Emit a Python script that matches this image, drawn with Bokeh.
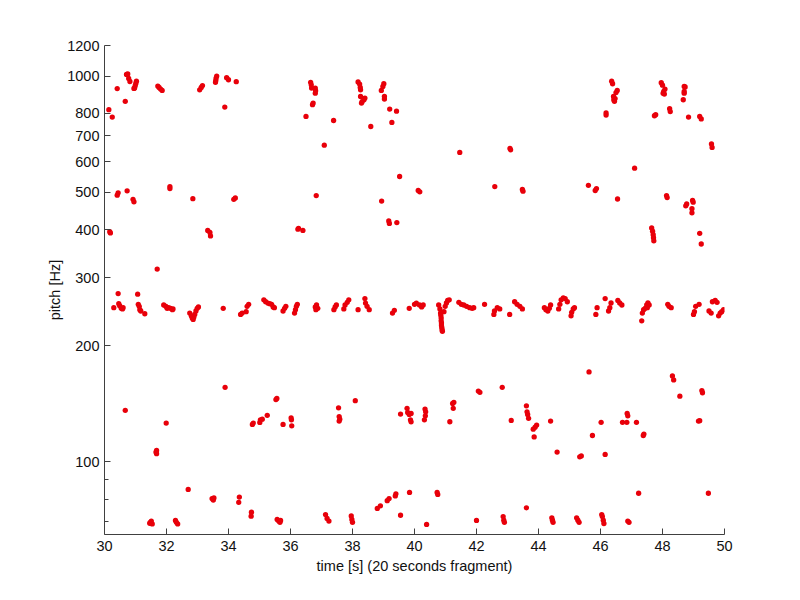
from bokeh.plotting import figure
from bokeh.models import Range1d, FixedTicker, PrintfTickFormatter, ColumnDataSource
from bokeh.embed import file_html
from bokeh.resources import INLINE

# (time [s], pitch [Hz]) pairs, grouped by pitch band
high_band = [
    (30.14, 818), (30.25, 783), (30.41, 928), (30.67, 860), (30.71, 1010), (30.75, 1013), (30.78, 986), (30.82, 968),
    (31.03, 970), (31.01, 957), (30.99, 944), (30.97, 931), (30.95, 929),
    (31.72, 942), (31.76, 934), (31.81, 925), (31.86, 918),
    (33.16, 945), (33.12, 934), (33.07, 921),
    (33.62, 1000), (33.60, 988), (33.59, 974), (33.58, 963),
    (33.94, 990), (34.00, 978), (34.25, 967), (33.88, 831),
    (36.65, 963), (36.67, 949), (36.68, 931), (36.80, 931), (36.81, 916), (36.80, 903), (36.73, 851), (36.71, 843),
    (36.50, 786), (37.39, 767), (37.09, 662),
    (38.18, 965), (38.23, 953), (38.25, 934), (38.26, 921), (38.26, 885), (38.40, 877), (38.37, 868), (38.31, 858), (38.29, 851),
    (38.59, 740),
    (39.01, 955), (38.98, 940), (38.93, 918), (39.03, 885), (39.03, 872),
    (39.20, 821), (39.42, 811), (39.27, 758),
    (41.46, 634), (43.08, 649), (43.10, 644),
    (46.36, 970), (46.39, 955), (46.54, 918), (46.50, 906), (46.42, 885), (46.47, 874), (46.43, 868), (46.45, 860),
    (46.18, 802), (46.18, 792),
    (47.96, 961), (48.00, 947), (48.08, 925), (48.04, 912), (48.02, 903), (48.06, 898),
    (48.23, 823), (48.25, 809), (47.74, 789), (47.78, 794),
    (48.70, 940), (48.73, 937), (48.70, 912), (48.70, 903), (48.67, 868), (48.84, 783),
    (49.20, 786), (49.25, 774), (49.58, 667), (49.60, 653), (47.10, 577),
]

mid_band = [
    (30.44, 498), (30.41, 491), (30.73, 504), (30.92, 479), (30.95, 472),
    (32.11, 517), (32.11, 511), (32.85, 481), (34.22, 483), (34.17, 479),
    (30.17, 395), (30.19, 392), (33.33, 398), (33.40, 393), (33.42, 385),
    (36.26, 403), (36.24, 401), (36.40, 398), (31.70, 316),
    (36.83, 490), (38.94, 474), (39.52, 549), (40.12, 505), (40.17, 501),
    (42.59, 517), (43.48, 508), (43.50, 503), (39.17, 421), (39.19, 415), (39.43, 417),
    (45.61, 521), (45.87, 511), (45.83, 505), (46.55, 480), (48.13, 490), (48.15, 484),
    (48.75, 461), (48.78, 466), (48.97, 476), (48.99, 471), (48.95, 453), (48.95, 442),
    (47.65, 404), (47.68, 396), (47.70, 388), (47.71, 381), (47.72, 374),
    (49.20, 391), (49.25, 367),
]

main_band = [
    (30.30, 251), (30.44, 273), (30.46, 257), (30.49, 254), (30.54, 250), (30.58, 249), (30.60, 251),
    (31.07, 272), (31.09, 256), (31.12, 253), (31.14, 248), (31.17, 246), (31.30, 242),
    (31.91, 255), (31.98, 253), (32.02, 250), (32.07, 251), (32.13, 250), (32.19, 248), (32.21, 249),
    (32.75, 243), (32.80, 239), (32.83, 236), (32.86, 234), (32.88, 237), (32.91, 241), (32.95, 246), (32.99, 250), (33.03, 252),
    (33.83, 250),
    (34.39, 241), (34.44, 243), (34.57, 245), (34.60, 253), (34.65, 256),
    (35.14, 263), (35.20, 260), (35.27, 258), (35.33, 257), (35.39, 256), (35.44, 252), (35.48, 251),
    (35.76, 246), (35.81, 250), (35.85, 253),
    (36.13, 243), (36.16, 248), (36.19, 253), (36.22, 256),
    (36.80, 252), (36.84, 255), (36.88, 250), (36.82, 248),
    (37.40, 248), (37.44, 252), (37.48, 255),
    (37.72, 249), (37.76, 255), (37.83, 259), (37.88, 263),
    (38.18, 248),
    (38.40, 265), (38.42, 258), (38.47, 253), (38.54, 248),
    (39.29, 243), (39.35, 247),
    (39.83, 250), (40.00, 256), (40.06, 258), (40.16, 255), (40.23, 252), (40.28, 255),
    (40.78, 255), (40.82, 249), (40.84, 243), (40.85, 240), (40.86, 236), (40.86, 232), (40.87, 229), (40.87, 226),
    (40.88, 223), (40.89, 220), (40.90, 218), (40.95, 245), (40.99, 253), (41.03, 258), (41.07, 262), (41.12, 263),
    (41.43, 259), (41.51, 256), (41.59, 255), (41.68, 253), (41.78, 251), (41.86, 250), (41.91, 251),
    (42.26, 256),
    (42.56, 241), (42.58, 246), (42.67, 251), (42.75, 249),
    (43.07, 241),
    (43.23, 260), (43.31, 256), (43.40, 253), (43.48, 249),
    (44.19, 251), (44.24, 248), (44.30, 246), (44.35, 250), (44.39, 255),
    (44.65, 249), (44.69, 256), (44.73, 263), (44.80, 266), (44.86, 265), (44.93, 260),
    (45.05, 239), (45.07, 244), (45.12, 249), (45.16, 251),
    (45.85, 241), (45.89, 251), (46.15, 265),
    (46.26, 246), (46.30, 251), (46.34, 258),
    (46.56, 262), (46.62, 258), (46.69, 255),
    (47.33, 232), (47.35, 243), (47.39, 248), (47.44, 250), (47.49, 255), (47.53, 258), (47.57, 255), (47.51, 251),
    (48.17, 256), (48.21, 253), (48.28, 251),
    (49.00, 241), (49.03, 245), (49.07, 253), (49.18, 256),
    (49.50, 246), (49.57, 243), (49.61, 260), (49.70, 262), (49.76, 259),
    (49.81, 239), (49.86, 243), (49.91, 245), (49.97, 248),
]

low_mid_band = [
    (30.67, 136), (31.99, 126), (31.68, 107), (31.68, 105), (31.66, 106), (33.89, 156),
    (34.77, 125), (34.80, 126), (35.01, 126.5), (35.03, 128.5), (35.09, 129), (35.25, 132),
    (35.53, 145), (35.56, 146), (35.76, 125), (36.02, 130), (36.03, 128.5), (36.04, 124),
    (37.55, 138), (37.57, 131), (37.59, 129), (37.57, 127.5), (38.09, 144), (39.55, 133),
    (39.76, 137.6), (39.78, 134.3), (39.83, 132.7), (39.89, 133.5), (39.87, 128.5), (39.89, 127),
    (40.34, 137), (40.36, 134.8), (40.35, 131.6), (40.32, 128.5),
    (41.23, 141.7), (41.27, 142.6), (41.25, 137.6), (41.14, 127),
    (42.06, 152.5), (42.11, 151.4), (42.83, 156), (43.12, 128),
    (43.61, 139.7), (43.63, 134.8), (43.65, 132.7), (43.68, 129.6),
    (43.83, 121.5), (43.89, 123), (43.94, 124.5), (43.86, 116), (44.39, 127.5), (44.60, 106),
    (45.33, 103), (45.38, 103.6), (45.74, 117), (46.02, 126.6), (46.15, 104.5),
    (46.71, 126.6), (46.85, 126.6), (46.86, 133.5), (46.88, 131.6), (47.16, 126.6), (47.40, 118), (47.38, 117),
    (45.63, 171), (48.32, 167), (48.36, 163), (48.56, 148), (49.27, 153), (49.29, 151), (49.16, 127.5), (49.20, 127.8),
]

low_band = [
    (32.70, 84.8), (33.47, 80.3), (33.51, 79.6), (33.53, 80.6), (34.35, 81), (34.33, 78.5),
    (34.74, 74), (34.73, 72.3), (35.57, 70.9), (35.62, 70.2), (35.68, 70.5), (35.66, 69.7),
    (31.48, 69.7), (31.54, 69), (31.51, 70.2), (31.46, 69.3), (32.29, 70.5), (32.32, 69.7), (32.36, 69),
    (37.13, 73), (37.18, 71.3), (37.24, 70.2), (37.96, 72.4), (37.98, 70.9), (38.00, 69.7),
    (38.80, 75.7), (38.90, 76.9), (39.12, 79.3), (39.18, 80.3), (39.38, 81.6), (39.40, 82.6),
    (39.55, 72.7), (39.84, 83.3), (40.73, 83.3), (40.75, 82.3), (40.39, 68.8), (42.00, 70.5),
    (42.86, 72.1), (42.88, 70.6), (42.90, 69.7),
    (43.61, 76), (47.23, 82.9), (49.48, 82.9),
    (44.43, 71.6), (44.45, 70.6), (44.47, 69.7), (45.23, 71.6), (45.27, 70.6), (45.31, 69.7),
    (46.04, 73), (46.06, 72.1), (46.09, 70.6), (46.11, 69.2), (46.88, 70.2), (46.92, 69.7),
]

x_ticks = [30, 32, 34, 36, 38, 40, 42, 44, 46, 48, 50]
y_ticks = [100, 200, 300, 400, 500, 600, 700, 800, 1000, 1200]
y_minor_ticks = [70, 80, 90]

points = high_band + mid_band + main_band + low_mid_band + low_band
src = ColumnDataSource(data=dict(t=[p[0] for p in points], f=[p[1] for p in points]))

p = figure(width=792, height=592, output_backend="svg", toolbar_location=None,
           y_axis_type="log", x_range=Range1d(30, 50), y_range=Range1d(64.8, 1200),
           min_border_left=104, min_border_right=68, min_border_top=45, min_border_bottom=58)
p.outline_line_color = None
p.xgrid.visible = False
p.ygrid.visible = False
p.background_fill_color = "white"
p.border_fill_color = "white"

p.scatter("t", "f", source=src, size=5.3, fill_color="#e8000a", line_color=None)

p.xaxis.ticker = FixedTicker(ticks=x_ticks, minor_ticks=[])
p.yaxis.ticker = FixedTicker(ticks=y_ticks, minor_ticks=y_minor_ticks)
p.yaxis.formatter = PrintfTickFormatter(format="%d")

for ax in (p.xaxis[0], p.yaxis[0]):
    ax.axis_line_color = "#404040"
    ax.major_tick_line_color = "#404040"
    ax.minor_tick_line_color = "#404040"
    ax.major_tick_in = 6
    ax.major_tick_out = 0
    ax.minor_tick_in = 4
    ax.minor_tick_out = 0
    ax.major_label_text_font = "Liberation Sans"
    ax.major_label_text_font_size = "14.5px"
    ax.major_label_text_color = "#111111"
    ax.axis_label_text_font = "Liberation Sans"
    ax.axis_label_text_font_size = "14.5px"
    ax.axis_label_text_font_style = "normal"
    ax.axis_label_text_color = "#111111"

p.xaxis.axis_label = "time [s] (20 seconds fragment)"
p.yaxis.axis_label = "pitch [Hz]"
p.xaxis.major_label_standoff = 6
p.xaxis.axis_label_standoff = 4
p.yaxis.major_label_standoff = 5
p.yaxis.axis_label_standoff = 1

open("out.html", "w").write(file_html(p, INLINE))
